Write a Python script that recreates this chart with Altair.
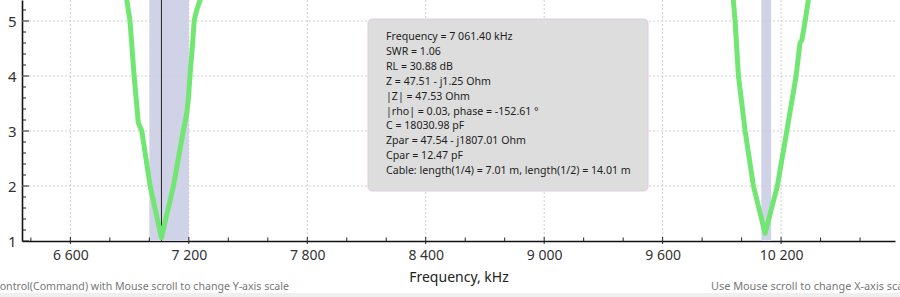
import altair as alt
import pandas as pd

# ---- data ----
freq_khz = [6400, 6850, 6886, 6902, 6923, 6944, 6962, 7004, 7061.4, 7122, 7172, 7190, 7198,
            7206, 7223, 7227, 7240, 7257, 7300, 8600, 9920, 9958, 9967, 9984, 10018, 10060,
            10119, 10181, 10229, 10276, 10296, 10305, 10322, 10338, 10380, 10780]
swr = [14, 6.2, 5.38, 5.0, 4.0, 3.15, 3.0, 2.0, 1.06, 2.0, 3.0, 3.33, 3.6,
       4.0, 4.78, 5.0, 5.2, 5.38, 6.2, 20, 6.2, 5.38, 5.0, 4.0, 3.0, 2.0,
       1.14, 2.0, 3.0, 4.0, 4.6, 4.65, 5.0, 5.38, 6.2, 14]

band_start = [7000, 10100]
band_end = [7200, 10150]
cursor_khz = [7061.4]

x_major = [6600, 7200, 7800, 8400, 9000, 9600, 10200]
x_minor = [6400, 6800, 7000, 7400, 7600, 8000, 8200, 8600, 8800, 9200, 9400, 9800, 10000, 10400, 10600]
y_major = [1, 2, 3, 4, 5]
y_grid = [2, 3, 4, 5]
y_minor = [1.2, 1.4, 1.6, 1.8, 2.2, 2.4, 2.6, 2.8, 3.2, 3.4, 3.6, 3.8, 4.2, 4.4, 4.6, 4.8, 5.2]

info_lines = [
    "Frequency = 7 061.40 kHz",
    "SWR = 1.06",
    "RL = 30.88 dB",
    "Z = 47.51 - j1.25 Ohm",
    "|Z| = 47.53 Ohm",
    "|rho| = 0.03, phase = -152.61 °",
    "C = 18030.98 pF",
    "Zpar = 47.54 - j1807.01 Ohm",
    "Cpar = 12.47 pF",
    "Cable: length(1/4) = 7.01 m, length(1/2) = 14.01 m",
]
hint_left = "Control(Command) with Mouse scroll to change Y-axis scale"
hint_right = "Use Mouse scroll to change X-axis scale"

X_DOMAIN = [6355, 10777]
Y_DOMAIN = [1, 5.382]
FONT = "Noto Sans"

xs = alt.Scale(domain=X_DOMAIN, nice=False, zero=False)
ys = alt.Scale(domain=Y_DOMAIN, nice=False, zero=False)

x_axis = alt.Axis(values=x_major, title="Frequency, kHz", grid=False, ticks=False,
                  tickSize=0, labelPadding=7, domainColor="#111111", domainWidth=1.6,
                  labelFontSize=14, labelColor="#333333", labelFont=FONT,
                  labelExpr="replace(format(datum.value, ','), ',', ' ')",
                  titleFont=FONT, titleFontSize=14, titleFontWeight="normal",
                  titleColor="#222222", titlePadding=8)
y_axis = alt.Axis(values=y_major, title=None, grid=False, ticks=False, tickSize=0,
                  labelPadding=6, domainColor="#111111", domainWidth=1.6,
                  labelFontSize=15, labelColor="#333333", labelFont=FONT, format="d")


def X(field):
    return alt.X(field, scale=xs, axis=x_axis, title="Frequency, kHz")


def Y(field):
    return alt.Y(field, scale=ys, axis=y_axis, title=None)


curve = pd.DataFrame({"f": freq_khz, "swr": swr})
bands = pd.DataFrame({"a": band_start, "b": band_end})
one = pd.DataFrame({"k": [0]})

band_layer = alt.Chart(bands).mark_rect(color="#d0d2e8").encode(x=X("a:Q"), x2="b:Q")

vgrid = alt.Chart(pd.DataFrame({"f": x_major})).mark_rule(
    color="#cfcfcf", strokeDash=[2, 2], strokeWidth=1
).encode(x=X("f:Q"))

hgrid = alt.Chart(pd.DataFrame({"v": y_grid})).mark_rule(
    color="#cfcfcf", strokeDash=[2, 2], strokeWidth=1
).encode(y=Y("v:Q"))

cursor = alt.Chart(pd.DataFrame({"f": cursor_khz})).mark_rule(
    color="#222222", strokeWidth=1
).encode(x=X("f:Q"))

line = alt.Chart(curve).mark_line(
    color="#72e672", strokeWidth=5, clip=True, strokeJoin="round", strokeCap="round"
).encode(x=X("f:Q"), y=Y("swr:Q"))

ytick_major = alt.Chart(pd.DataFrame({"v": y_major})).mark_rule(color="#222222").encode(
    y=Y("v:Q"), x=alt.value(0), x2=alt.value(7)
)
ytick_minor = alt.Chart(pd.DataFrame({"v": y_minor})).mark_rule(color="#222222").encode(
    y=Y("v:Q"), x=alt.value(0), x2=alt.value(4)
)
xtick_major = alt.Chart(pd.DataFrame({"f": x_major})).mark_rule(color="#222222").encode(
    x=X("f:Q"), y=alt.value(237), y2=alt.value(244)
)
xtick_minor = alt.Chart(pd.DataFrame({"f": x_minor})).mark_rule(color="#222222").encode(
    x=X("f:Q"), y=alt.value(237.5), y2=alt.value(241)
)

box = alt.Chart(one).mark_rect(
    fill="#dddddd", stroke="#e3c9e3", strokeWidth=1, cornerRadius=4
).encode(x=alt.value(346), x2=alt.value(626), y=alt.value(19), y2=alt.value(191))

info = alt.Chart(one).mark_text(
    text=info_lines, align="left", baseline="top", lineHeight=14.9,
    fontSize=10.6, font=FONT, color="#1e1e1e"
).encode(x=alt.value(364), y=alt.value(32))

strip = alt.Chart(one).mark_rect(color="#efefef").encode(
    x=alt.value(-22), x2=alt.value(878), y=alt.value(293), y2=alt.value(297)
)
hint_l = alt.Chart(one).mark_text(
    text=hint_left, align="left", baseline="middle", fontSize=10.6, font=FONT, color="#777777"
).encode(x=alt.value(-29), y=alt.value(287))
hint_r = alt.Chart(one).mark_text(
    text=hint_right, align="left", baseline="middle", fontSize=10.9, font=FONT, color="#777777"
).encode(x=alt.value(689), y=alt.value(287))

chart = alt.layer(
    band_layer, vgrid, hgrid, cursor, line,
    ytick_major, ytick_minor, xtick_major, xtick_minor,
    box, info, strip, hint_l, hint_r,
).properties(
    width=873, height=241,
    padding={"left": 22, "right": 5, "top": 0, "bottom": 56},
    autosize=alt.AutoSizeParams(type="none"),
    background="white",
).configure_view(stroke=None)

chart.save("out.html", embed_options={"renderer": "svg", "actions": False})
